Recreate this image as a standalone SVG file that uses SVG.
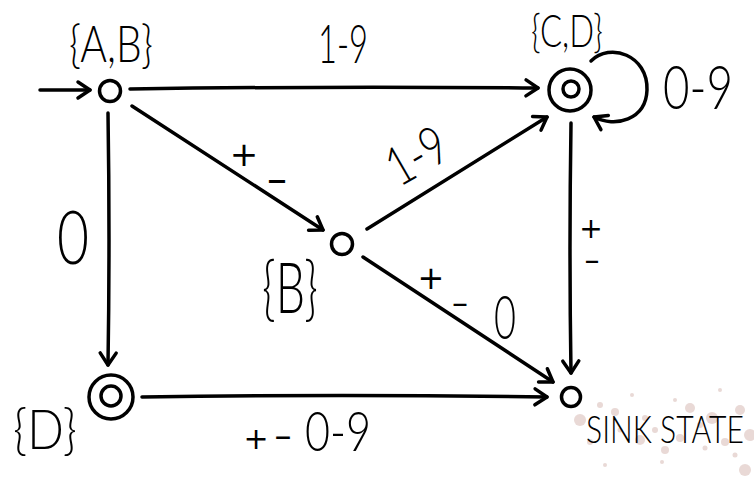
<svg xmlns="http://www.w3.org/2000/svg" width="754" height="480" viewBox="0 0 754 480">
<style>
.e{fill:none;stroke:#000;stroke-width:3.5;stroke-linecap:round;stroke-linejoin:round}
.s{fill:none;stroke:#000;stroke-width:3.5}
.t{font-family:"Lato","Liberation Sans",sans-serif;font-weight:300;fill:#000;text-anchor:middle}
.p{font-family:"DejaVu Sans",sans-serif;font-weight:400;fill:#000;text-anchor:middle}
.sp{fill:#c9a29a}
</style>
<defs>
<marker id="ah" markerUnits="userSpaceOnUse" viewBox="-15 -15 30 30" markerWidth="30" markerHeight="30" refX="0" refY="0" orient="auto" overflow="visible">
<path d="M-12,-8 L0,0 L-12,8" fill="none" stroke="#000" stroke-width="3.5" stroke-linecap="round" stroke-linejoin="round"/>
</marker>
</defs>
<rect width="754" height="480" fill="#fff"/>
<g id="splatter" opacity="0.4">
<circle class="sp" cx="580" cy="420" r="6"/><circle class="sp" cx="600" cy="405" r="3"/><circle class="sp" cx="615" cy="412" r="4"/>
<circle class="sp" cx="640" cy="440" r="5"/><circle class="sp" cx="655" cy="430" r="3"/><circle class="sp" cx="665" cy="450" r="4"/>
<circle class="sp" cx="690" cy="408" r="5"/><circle class="sp" cx="700" cy="425" r="3"/><circle class="sp" cx="712" cy="418" r="6"/>
<circle class="sp" cx="725" cy="442" r="4"/><circle class="sp" cx="740" cy="410" r="5"/><circle class="sp" cx="750" cy="435" r="6"/>
<circle class="sp" cx="745" cy="470" r="6"/><circle class="sp" cx="605" cy="465" r="2"/><circle class="sp" cx="632" cy="395" r="2"/>
<circle class="sp" cx="675" cy="400" r="2"/><circle class="sp" cx="720" cy="390" r="2"/><circle class="sp" cx="662" cy="462" r="2"/>
<circle class="sp" cx="590" cy="442" r="3"/><circle class="sp" cx="620" cy="430" r="2.5"/><circle class="sp" cx="735" cy="455" r="2.5"/>
<circle class="sp" cx="645" cy="418" r="3"/><circle class="sp" cx="680" cy="438" r="4"/><circle class="sp" cx="705" cy="448" r="2.5"/>
</g>
<g id="connectors">
<path class="e" d="M40,90 L90,90" marker-end="url(#ah)"/>
<path class="e" d="M130,89 Q330,86 538,88" marker-end="url(#ah)"/>
<path class="e" d="M132,106 L323,230" marker-end="url(#ah)"/>
<path class="e" d="M108,113 Q110,240 108,365" marker-end="url(#ah)"/>
<path class="e" d="M367,229 L547,117" marker-end="url(#ah)"/>
<path class="e" d="M363,257 L553,382" marker-end="url(#ah)"/>
<path class="e" d="M571,123 Q569,250 571,373" marker-end="url(#ah)"/>
<path class="e" d="M142,397 Q340,394 547,397" marker-end="url(#ah)"/>
<path class="e" d="M591,61 C610,42 648,55 647,90 C646,120 615,128 594,117" marker-end="url(#ah)"/>
</g>
<g id="node-AB">
<circle class="s" cx="110" cy="91" r="10.5"/>
<text class="t" x="111" y="62" font-size="52" textLength="84" lengthAdjust="spacingAndGlyphs">{A,B}</text>
</g>
<g id="node-CD">
<circle class="s" cx="570" cy="90" r="21"/>
<circle class="s" cx="571" cy="89" r="8"/>
<text class="t" x="567" y="47" font-size="46" textLength="72" lengthAdjust="spacingAndGlyphs">{C,D}</text>
</g>
<g id="node-B">
<circle class="s" cx="342" cy="244" r="10.5"/>
<text class="t" x="290" y="313" font-size="70" textLength="56" lengthAdjust="spacingAndGlyphs">{B}</text>
</g>
<g id="node-D">
<circle class="s" cx="111" cy="397" r="22"/>
<circle class="s" cx="111" cy="396" r="10"/>
<text class="t" x="45" y="449" font-size="56" textLength="64" lengthAdjust="spacingAndGlyphs">{D}</text>
</g>
<g id="node-sink">
<circle class="s" cx="571" cy="397" r="9.5"/>
<text class="t" x="0" y="0" font-size="27" textLength="158" lengthAdjust="spacingAndGlyphs" transform="translate(665,443) scale(1,1.4)">SINK STATE</text>
</g>
<g id="labels">
<text class="t" x="343" y="63" font-size="54" textLength="50" lengthAdjust="spacingAndGlyphs">1-9</text>
<text class="t" x="0" y="0" font-size="44" textLength="70" lengthAdjust="spacingAndGlyphs" transform="translate(698,109) scale(1,1.4)">0-9</text>
<text class="p" x="244" y="166" font-size="34">+</text>
<text class="p" x="277" y="193" font-size="40">–</text>
<text class="t" x="73" y="264" font-size="74" textLength="32" lengthAdjust="spacingAndGlyphs">0</text>
<text class="t" x="0" y="0" font-size="54" textLength="62" lengthAdjust="spacingAndGlyphs" transform="translate(426,172) rotate(-30)">1-9</text>
<text class="p" x="431" y="289" font-size="32">+</text>
<text class="p" x="460" y="314" font-size="32">–</text>
<text class="t" x="505" y="339" font-size="62" textLength="22" lengthAdjust="spacingAndGlyphs">0</text>
<text class="p" x="591" y="238" font-size="28">+</text>
<text class="p" x="592" y="270" font-size="30">–</text>
<text class="p" x="256" y="449" font-size="30">+</text>
<text class="p" x="283" y="447" font-size="34">–</text>
<text class="t" x="338" y="451" font-size="56" textLength="66" lengthAdjust="spacingAndGlyphs">0-9</text>
</g>
</svg>
